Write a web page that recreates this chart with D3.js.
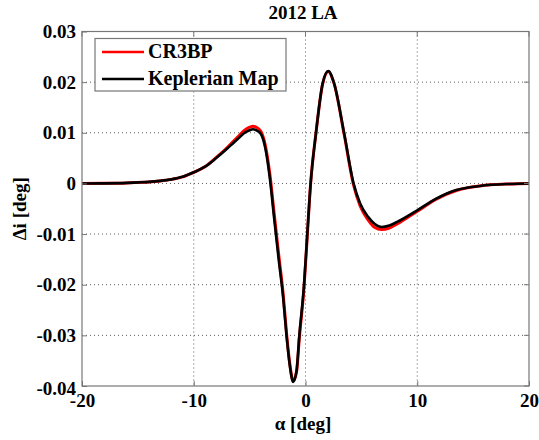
<html>
<head>
<meta charset="utf-8">
<script src="https://d3js.org/d3.v7.min.js"></script>
<style>
  body { margin: 0; background: #fff; }
  svg text { font-family: "Liberation Serif", "DejaVu Serif", serif; font-weight: bold; }
</style>
</head>
<body>
<svg width="539" height="440"></svg>
<script>
// values
var alpha = [-20,-18,-16,-15,-14,-13,-12,-11,-10,-9,-8,-7,-6.5,-6,-5.5,-5,-4.7,-4.4,-4,-3.6,-3.2,-2.8,-2.4,-2,-1.7,-1.4,-1.1,-0.8,-0.55,-0.13,0.16,0.46,0.94,1.54,2.04,2.55,3.45,4.3,4.9,5.6,6.2,6.8,7.5,8.2,10,11.7,13.5,15.6,18.3,20];
var keplerian = [0,0.00002,0.0001,0.0002,0.0003,0.0005,0.0008,0.0013,0.0022,0.0033,0.005,0.0069,0.0079,0.0089,0.0099,0.0105,0.0107,0.0105,0.0098,0.007,0.0012,-0.007,-0.015,-0.0225,-0.03,-0.036,-0.0392,-0.037,-0.03,-0.02,-0.01,0,0.01,0.0198,0.0222,0.0198,0.01,0,-0.004,-0.0066,-0.008,-0.0086,-0.0083,-0.0076,-0.0053,-0.003,-0.0013,-0.0005,-0.0001,0];
var cr3bp = [0,0.00002,0.0001,0.0002,0.0003,0.0005,0.0008,0.0013,0.0022,0.0033,0.0051,0.0071,0.0082,0.0093,0.0104,0.0111,0.0113,0.0111,0.0103,0.0076,0.002,-0.006,-0.014,-0.0218,-0.0295,-0.0357,-0.039,-0.0372,-0.0305,-0.0205,-0.0103,0,0.01,0.0197,0.0221,0.0198,0.0098,-0.0003,-0.0045,-0.0072,-0.0087,-0.0091,-0.0088,-0.008,-0.0055,-0.0031,-0.0014,-0.0005,-0.0001,0];
var xTicks = [-20,-10,0,10,20];
var yTicks = [-0.04,-0.03,-0.02,-0.01,0,0.01,0.02,0.03];
var seriesNames = ["CR3BP", "Keplerian Map"];
var seriesColors = ["#ff0000", "#000000"];

var svg = d3.select("svg");
var pL = 82, pR = 529, pT = 31.5, pB = 386;
var serif = "'Liberation Serif', 'DejaVu Serif', serif";

var x = d3.scaleLinear().domain([-20,20]).range([pL, pR]);
var y = d3.scaleLinear().domain([-0.04,0.03]).range([pB, pT]);

// grid
svg.append("g").selectAll("line").data(xTicks.slice(1,-1)).enter().append("line")
  .attr("x1", d => x(d)).attr("x2", d => x(d)).attr("y1", pT).attr("y2", pB)
  .attr("stroke", "#333").attr("stroke-width", 0.8).attr("stroke-dasharray", "1,3");
svg.append("g").selectAll("line").data(yTicks.slice(1,-1)).enter().append("line")
  .attr("y1", d => y(d)).attr("y2", d => y(d)).attr("x1", pL).attr("x2", pR)
  .attr("stroke", "#333").attr("stroke-width", 0.8).attr("stroke-dasharray", "1,3");

// curves
var line = d3.line().x((d,i) => x(alpha[i])).y(d => y(d)).curve(d3.curveMonotoneX);
svg.append("path").datum(cr3bp).attr("d", line).attr("fill","none")
  .attr("stroke", seriesColors[0]).attr("stroke-width", 3);
svg.append("path").datum(keplerian).attr("d", line).attr("fill","none")
  .attr("stroke", seriesColors[1]).attr("stroke-width", 2.6);

// axes box and inward ticks
var xAxis = d3.axisBottom(x).tickValues(xTicks).tickSizeInner(-5).tickSizeOuter(0).tickPadding(8)
  .tickFormat(d => String(d));
var yAxis = d3.axisLeft(y).tickValues(yTicks).tickSizeInner(-5).tickSizeOuter(0).tickPadding(6)
  .tickFormat(d => d === 0 ? "0" : d.toFixed(2));
var gx = svg.append("g").attr("transform", "translate(0," + pB + ")").call(xAxis);
var gy = svg.append("g").attr("transform", "translate(" + pL + ",0)").call(yAxis);
[gx, gy].forEach(function(g) {
  g.attr("font-family", serif);
  g.select(".domain").remove();
  g.selectAll(".tick line").attr("stroke", "#777");
  g.selectAll("text").attr("fill", "#000").style("font-size", "19px")
    .style("font-family", serif).style("font-weight", "bold");
});
// lowest y label sits a little low, as in the reference
gy.selectAll(".tick text").filter(d => d === -0.04).attr("dy", "0.45em");
svg.append("rect").attr("x", pL).attr("y", pT).attr("width", pR-pL).attr("height", pB-pT)
  .attr("fill", "none").attr("stroke", "#777").attr("stroke-width", 1.2);
// top/right ticks
svg.append("g").selectAll("line").data(xTicks).enter().append("line")
  .attr("x1", d => x(d)).attr("x2", d => x(d)).attr("y1", pT).attr("y2", pT+5).attr("stroke", "#777");
svg.append("g").selectAll("line").data(yTicks).enter().append("line")
  .attr("y1", d => y(d)).attr("y2", d => y(d)).attr("x1", pR).attr("x2", pR-5).attr("stroke", "#777");

// title and labels
svg.append("text").attr("x", 303).attr("y", 19).attr("text-anchor", "middle")
  .style("font-size", "19px").text("2012 LA");
svg.append("text").attr("x", 303).attr("y", 430).attr("text-anchor", "middle")
  .style("font-size", "19px").text("\u03b1 [deg]");
svg.append("text").attr("transform", "translate(26," + ((pT+pB)/2) + ") rotate(-90)")
  .attr("text-anchor", "middle").style("font-size", "19px").text("\u0394i [deg]");

// legend
var lg = svg.append("g");
lg.append("rect").attr("x", 95).attr("y", 38.5).attr("width", 191).attr("height", 52.5)
  .attr("fill", "#fff").attr("stroke", "#777").attr("stroke-width", 1.2);
seriesNames.forEach(function(name, i) {
  var yy = 52 + i * 27;
  lg.append("line").attr("x1", 102).attr("x2", 144).attr("y1", yy).attr("y2", yy)
    .attr("stroke", seriesColors[i]).attr("stroke-width", 2.6);
  lg.append("text").attr("x", 148).attr("y", yy + 6).style("font-size", "20px").text(name);
});

// caption of the page, cut by the bottom edge
svg.append("text").attr("x", 40).attr("y", 453).attr("textLength", 495)
  .attr("fill", "#888").style("font-size", "19px")
  .text("Figure 7.  Inclination shift as a function of");
</script>
</body>
</html>
